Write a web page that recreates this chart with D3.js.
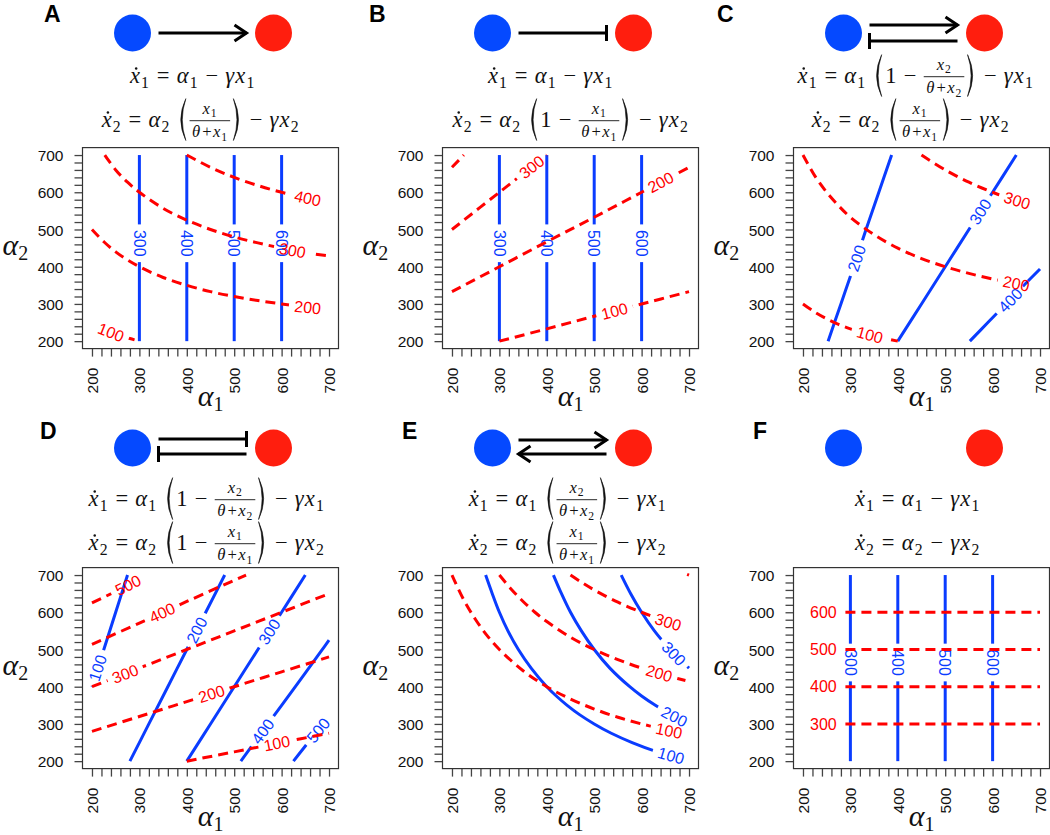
<!DOCTYPE html>
<html>
<head>
<meta charset="utf-8">
<script src="https://cdn.jsdelivr.net/npm/d3@7"></script>
<style>
  body { margin: 0; background: #fff; }
  svg { display: block; }
</style>
</head>
<body>
<div id="chart"></div>
<script>
// contour lines (alpha1, alpha2); blue = x1, red = x2
var A_x1 = [
  {lev: 300, pts: [[300,200],[300,700]], at: [300,463]},
  {lev: 400, pts: [[400,200],[400,700]], at: [400,463]},
  {lev: 500, pts: [[500,200],[500,700]], at: [500,463]},
  {lev: 600, pts: [[600,200],[600,700]], at: [600,463]}
];
var A_x2 = [
  {lev: 100, pts: [[238,226],[260,215],[280,207],[300,200]], at: [240,224]},
  {lev: 200, pts: [[200,500],[225,467],[250,440],[275,418],[300,400],[350,371],[400,350],[450,333],[500,320],[550,309],[600,300],[650,292],[688,287]], at: [655,291]},
  {lev: 300, pts: [[227,700],[250,660],[275,627],[300,600],[350,557],[400,525],[450,500],[500,480],[550,464],[600,450],[650,438],[700,429]], at: [623,444]},
  {lev: 400, pts: [[400,700],[450,667],[500,640],[550,618],[600,600],[650,585],[688,574]], at: [655,584]}
];
var B_x1 = [
  {lev: 300, pts: [[300,200],[300,700]], at: [300,463]},
  {lev: 400, pts: [[400,200],[400,700]], at: [400,463]},
  {lev: 500, pts: [[500,200],[500,700]], at: [500,463]},
  {lev: 600, pts: [[600,200],[600,700]], at: [600,463]}
];
var B_x2 = [
  {lev: 100, pts: [[300,200],[400,233],[500,267],[600,300],[700,333]], at: [543,281]},
  {lev: 200, pts: [[200,333],[300,400],[400,467],[500,533],[600,600],[700,667]], at: [640,627]},
  {lev: 300, pts: [[200,500],[300,600],[400,700]], at: [368,668]},
  {lev: 400, pts: [[200,667],[225,700]]}
];
var C_x1 = [
  {lev: 200, pts: [[253,200],[280,300],[307,400],[333,500],[360,600],[387,700]], at: [313,423]},
  {lev: 300, pts: [[400,200],[450,300],[500,400],[550,500],[600,600],[650,700]], at: [574,548]},
  {lev: 400, pts: [[552,200],[590,250],[628,300],[666,350],[700,394]], at: [637,310]}
];
var C_x2 = [
  {lev: 100, pts: [[200,300],[225,278],[250,260],[275,245],[300,233],[325,223],[350,214],[375,207],[400,200]], at: [341,217]},
  {lev: 200, pts: [[200,700],[225,644],[250,600],[275,564],[300,533],[350,486],[400,450],[450,422],[500,400],[550,382],[600,367],[650,354],[686,346]], at: [650,355]},
  {lev: 300, pts: [[450,700],[500,660],[550,627],[600,600],[650,577],[686,563]], at: [652,578]}
];
var D_x1 = [
  {lev: 100, pts: [[200,400],[225,500],[250,600],[275,700]], at: [212,450]},
  {lev: 200, pts: [[280,200],[320,300],[360,400],[400,500],[440,600],[480,700]], at: [421,552]},
  {lev: 300, pts: [[400,200],[450,300],[500,400],[550,500],[600,600],[650,700]], at: [574,548]},
  {lev: 400, pts: [[514,200],[571,300],[629,400],[686,500],[700,525]], at: [560,280]},
  {lev: 500, pts: [[625,200],[656,250],[688,300],[700,320]], at: [677,283]}
];
var D_x2 = [
  {lev: 100, pts: [[400,200],[500,225],[600,250],[700,275]], at: [590,248]},
  {lev: 200, pts: [[200,280],[300,320],[400,360],[500,400],[600,440],[700,480]], at: [452,381]},
  {lev: 300, pts: [[200,400],[300,450],[400,500],[500,550],[600,600],[700,650]], at: [270,435]},
  {lev: 400, pts: [[200,514],[300,571],[400,629],[500,686],[525,700]], at: [348,599]},
  {lev: 500, pts: [[200,625],[250,656],[300,688],[320,700]], at: [276,673]}
];
var E_x1 = [
  {lev: 100, pts: [[271,700],[285,650],[300,600],[318,550],[340,500],[367,450],[400,400],[420,375],[443,350],[469,325],[500,300],[536,275],[580,250],[633,225],[690,204]], at: [662,215]},
  {lev: 200, pts: [[414,700],[431,650],[450,600],[473,550],[500,500],[533,450],[575,400],[600,375],[629,350],[662,325],[700,300]], at: [669,320]},
  {lev: 300, pts: [[557,700],[577,650],[600,600],[627,550],[660,500],[679,475],[700,450]], at: [668,489]}
];
var E_x2 = [
  {lev: 100, pts: [[200,700],[225,633],[250,580],[275,536],[300,500],[350,443],[400,400],[450,367],[500,340],[550,318],[600,300],[650,285],[688,275]], at: [658,282]},
  {lev: 200, pts: [[300,700],[325,662],[350,629],[375,600],[400,575],[450,533],[500,500],[550,473],[600,450],[650,431],[700,414]], at: [637,436]},
  {lev: 300, pts: [[450,700],[475,679],[500,660],[550,627],[600,600],[650,577],[688,562]], at: [656,574]},
  {lev: 400, pts: [[696,702],[700,700]]}
];
var F_x1 = [
  {lev: 300, pts: [[300,200],[300,700]], at: [300,465]},
  {lev: 400, pts: [[400,200],[400,700]], at: [400,465]},
  {lev: 500, pts: [[500,200],[500,700]], at: [500,465]},
  {lev: 600, pts: [[600,200],[600,700]], at: [600,465]}
];
var F_x2 = [
  {lev: 300, pts: [[222,300],[700,300]], at: [243,300]},
  {lev: 400, pts: [[222,400],[700,400]], at: [243,400]},
  {lev: 500, pts: [[222,500],[700,500]], at: [243,500]},
  {lev: 600, pts: [[222,600],[700,600]], at: [243,600]}
];

// axis ticks and labels
var tickLabels = [200, 300, 400, 500, 600, 700];
var minorTicks = d3.range(200, 701, 20);

// equations: d = dot, a = alpha, g = gamma, t = theta, f:num/den = fraction
var eqA = ['dx1 = a1 - g x1', 'dx2 = a2 ( f:x1/t,+,x1 ) - g x2'];
var eqB = ['dx1 = a1 - g x1', 'dx2 = a2 ( 1 - f:x1/t,+,x1 ) - g x2'];
var eqC = ['dx1 = a1 ( 1 - f:x2/t,+,x2 ) - g x1', 'dx2 = a2 ( f:x1/t,+,x1 ) - g x2'];
var eqD = ['dx1 = a1 ( 1 - f:x2/t,+,x2 ) - g x1', 'dx2 = a2 ( 1 - f:x1/t,+,x1 ) - g x2'];
var eqE = ['dx1 = a1 ( f:x2/t,+,x2 ) - g x1', 'dx2 = a2 ( f:x1/t,+,x1 ) - g x2'];
var eqF = ['dx1 = a1 - g x1', 'dx2 = a2 - g x2'];

// links between nodes: dir br = blue->red, rb = red->blue
var linksA = [{dy: 0, dir: 'br', head: 'arrow'}];
var linksB = [{dy: 0, dir: 'br', head: 'bar'}];
var linksC = [{dy: -8, dir: 'br', head: 'arrow'}, {dy: 8, dir: 'rb', head: 'bar'}];
var linksD = [{dy: -9, dir: 'br', head: 'bar'}, {dy: 6, dir: 'rb', head: 'bar'}];
var linksE = [{dy: -8, dir: 'br', head: 'arrow'}, {dy: 6, dir: 'rb', head: 'arrow'}];
var linksF = [];

var panels = [
  {name: 'A', col: 0, row: 0, x1: A_x1, x2: A_x2, eq: eqA, links: linksA, eqOff: [-18, -10], lx: 44},
  {name: 'B', col: 1, row: 0, x1: B_x1, x2: B_x2, eq: eqB, links: linksB, eqOff: [-20, 0], lx: 369},
  {name: 'C', col: 2, row: 0, x1: C_x1, x2: C_x2, eq: eqC, links: linksC, eqOff: [-6, -11], lx: 717},
  {name: 'D', col: 0, row: 1, x1: D_x1, x2: D_x2, eq: eqD, links: linksD, eqOff: [-4, -4], lx: 40},
  {name: 'E', col: 1, row: 1, x1: E_x1, x2: E_x2, eq: eqE, links: linksE, eqOff: [-3, -3], lx: 402},
  {name: 'F', col: 2, row: 1, x1: F_x1, x2: F_x2, eq: eqF, links: linksF, eqOff: [-4, -4], lx: 753}
];

var W = 1050, H = 835;
var colLeft = [82.5, 442.5, 793.5];
var rowTop = [147.6, 567.6];
var boxW = 256, boxH = 201;
var nodeY = [33, 448];
var eqY = [[83, 127], [506, 550]];
var letterY = [22, 439];
var EQ_SIZE = 22.5;

var BLUE = '#0a3cff', RED = '#ff0000';
var SANS = '"Liberation Sans", Arial, Helvetica, sans-serif';
var SERIF = '"Liberation Serif", "DejaVu Serif", serif';

var svg = d3.select('#chart').append('svg')
  .attr('width', W).attr('height', H)
  .attr('font-family', SANS);
var defs = svg.append('defs');
var maskId = 0;

var line = d3.line().curve(d3.curveCatmullRom.alpha(0.5));

function tok(s) {
  if (s === '=' || s === '-' || s === '+') return {k: 'o', c: s === '-' ? '\u2212' : s};
  if (s === '(' || s === ')') return {k: 'p', c: s};
  if (s.indexOf('f:') === 0) {
    var parts = s.slice(2).split('/');
    return {k: 'f', num: parts[0].split(',').map(tok), den: parts[1].split(',').map(tok)};
  }
  if (/^\d$/.test(s)) return {k: 'n', c: s};
  var dot = false;
  if (s[0] === 'd') { dot = true; s = s.slice(1); }
  var map = {x: 'x', a: '\u03b1', g: '\u03b3', t: '\u03b8'};
  return {k: 'v', c: map[s[0]], sub: s.slice(1) || null, dot: dot};
}

function layout(g, toks, S, tight) {
  var x = 0;
  toks.forEach(function(t) {
    if (t.k === 'v') {
      var tx = g.append('text').attr('x', x).attr('font-size', S)
        .attr('font-style', 'italic').text(t.c);
      var w = tx.node().getComputedTextLength();
      if (t.dot) g.append('circle').attr('cx', x + w * 0.62).attr('cy', -S * 0.64).attr('r', S * 0.055);
      x += w + S * 0.05;
      if (t.sub) {
        var s = g.append('text').attr('x', x).attr('y', S * 0.2)
          .attr('font-size', S * 0.7).text(t.sub);
        x += s.node().getComputedTextLength() + S * 0.03;
      }
    } else if (t.k === 'o') {
      var sp = tight ? S * 0.08 : S * 0.32;
      x += sp;
      var o = g.append('text').attr('x', x).attr('font-size', S).text(t.c);
      x += o.node().getComputedTextLength() + sp;
    } else if (t.k === 'n') {
      var n = g.append('text').attr('x', x).attr('font-size', S).text(t.c);
      x += n.node().getComputedTextLength();
    } else if (t.k === 'p') {
      var pw = S * 0.45;
      if (t.c === '(') x += S * 0.3;
      else x += S * 0.1;
      var top = -S * 1.26, bot = S * 0.6, mid = (top + bot) / 2;
      var p;
      if (t.c === '(') {
        var xe = x + pw * 0.9;
        p = 'M' + xe + ',' + top + 'Q' + (x - pw * 0.1) + ',' + mid + ' ' + xe + ',' + bot +
            'Q' + (x + pw * 0.2) + ',' + mid + ' ' + xe + ',' + top + 'Z';
      } else {
        var xs = x + pw * 0.1;
        p = 'M' + xs + ',' + top + 'Q' + (x + pw * 1.1) + ',' + mid + ' ' + xs + ',' + bot +
            'Q' + (x + pw * 0.8) + ',' + mid + ' ' + xs + ',' + top + 'Z';
      }
      g.append('path').attr('d', p).attr('fill', '#111').attr('stroke', '#111').attr('stroke-width', 0.6);
      x += pw;
      if (t.c === '(') x += S * 0.12;
    } else if (t.k === 'f') {
      var fs = S * 0.74;
      var ng = g.append('g'), dg = g.append('g');
      var wn = layout(ng, t.num, fs, true), wd = layout(dg, t.den, fs, true);
      var bw = Math.max(wn, wd) + S * 0.22;
      ng.attr('transform', 'translate(' + (x + (bw - wn) / 2) + ',' + (-S * 0.58) + ')');
      dg.attr('transform', 'translate(' + (x + (bw - wd) / 2) + ',' + (S * 0.46) + ')');
      g.append('line').attr('x1', x).attr('x2', x + bw)
        .attr('y1', -S * 0.28).attr('y2', -S * 0.28)
        .attr('stroke', '#111').attr('stroke-width', 0.9);
      x += bw;
    }
  });
  return x;
}

function drawEq(cx, by, spec, S) {
  var g = svg.append('g').attr('font-family', SERIF).attr('fill', '#111');
  var w = layout(g, spec.split(' ').map(tok), S, false);
  g.attr('transform', 'translate(' + (cx - w / 2) + ',' + by + ')');
}

function drawContour(g, c, color, dashed, sx, sy) {
  var pxPts = c.pts.map(function(d) { return [sx(d[0]), sy(d[1])]; });
  var path = g.append('path')
    .attr('d', line(pxPts))
    .attr('fill', 'none')
    .attr('stroke', color)
    .attr('stroke-width', 3)
    .attr('stroke-linejoin', 'round');
  if (dashed) path.attr('stroke-dasharray', '10,6');
  if (!c.at) return;

  var px = sx(c.at[0]), py = sy(c.at[1]);
  var best = Infinity, ang = 0;
  for (var i = 0; i < pxPts.length - 1; i++) {
    var a = pxPts[i], b = pxPts[i + 1];
    var vx = b[0] - a[0], vy = b[1] - a[1];
    var L2 = vx * vx + vy * vy;
    var tt = L2 ? Math.max(0, Math.min(1, ((px - a[0]) * vx + (py - a[1]) * vy) / L2)) : 0;
    var qx = a[0] + tt * vx - px, qy = a[1] + tt * vy - py;
    var dd = qx * qx + qy * qy;
    if (dd < best) { best = dd; ang = Math.atan2(vy, vx) * 180 / Math.PI; }
  }
  if (ang > 90) ang -= 180;
  if (ang <= -90) ang += 180;
  var tr = 'translate(' + px + ',' + py + ') rotate(' + ang + ')';
  var lab = g.append('text')
    .attr('transform', tr)
    .attr('text-anchor', 'middle')
    .attr('dy', '0.36em')
    .attr('fill', color)
    .attr('font-size', 16)
    .text(c.lev);
  var len = lab.node().getComputedTextLength();
  var id = 'gap' + (maskId++);
  var m = defs.append('mask').attr('id', id)
    .attr('maskUnits', 'userSpaceOnUse')
    .attr('x', 0).attr('y', 0).attr('width', W).attr('height', H);
  m.append('rect').attr('width', W).attr('height', H).attr('fill', 'white');
  m.append('rect')
    .attr('x', -len / 2 - 5.5).attr('y', -8)
    .attr('width', len + 11).attr('height', 16)
    .attr('transform', tr)
    .attr('fill', 'black');
  path.attr('mask', 'url(#' + id + ')');
}

function drawLink(cxB, cxR, cy, lk) {
  var xa = cxB + 26, xb = cxR - 27;
  var y = cy + lk.dy;
  var from = lk.dir === 'br' ? xa : xb, to = lk.dir === 'br' ? xb : xa;
  var s = to > from ? 1 : -1;
  svg.append('line').attr('x1', from).attr('x2', to).attr('y1', y).attr('y2', y)
    .attr('stroke', '#000').attr('stroke-width', 3);
  if (lk.head === 'arrow') {
    svg.append('path')
      .attr('d', 'M' + (to - s * 12) + ',' + (y - 8) + 'L' + to + ',' + y + 'L' + (to - s * 12) + ',' + (y + 8))
      .attr('fill', 'none').attr('stroke', '#000').attr('stroke-width', 3)
      .attr('stroke-linejoin', 'miter');
  } else {
    svg.append('line').attr('x1', to).attr('x2', to).attr('y1', y - 8).attr('y2', y + 8)
      .attr('stroke', '#000').attr('stroke-width', 3);
  }
}

panels.forEach(function(p) {
  var left = colLeft[p.col], top = rowTop[p.row];
  var cx = left + boxW / 2;
  var x = d3.scaleLinear().domain([180, 720]).range([left, left + boxW]);
  var y = d3.scaleLinear().domain([180, 720]).range([top + boxH, top]);

  // panel letter
  svg.append('text').attr('x', p.lx).attr('y', letterY[p.row])
    .attr('font-size', 23).attr('font-weight', 'bold').text(p.name);

  // network sketch
  var cxB = cx - 78, cxR = cx + 63, cy = nodeY[p.row];
  p.links.forEach(function(lk) { drawLink(cxB, cxR, cy, lk); });
  svg.append('circle').attr('cx', cxB).attr('cy', cy).attr('r', 18.5).attr('fill', '#0549ff');
  svg.append('circle').attr('cx', cxR).attr('cy', cy).attr('r', 18.5).attr('fill', '#ff1e0e');

  // equations
  p.eq.forEach(function(e, i) { drawEq(cx + p.eqOff[i], eqY[p.row][i], e, EQ_SIZE); });

  // axes
  var fmt = function(d) { return tickLabels.indexOf(d) >= 0 ? d : ''; };
  var gx = svg.append('g').attr('transform', 'translate(0,' + (top + boxH) + ')')
    .call(d3.axisBottom(x).tickValues(minorTicks).tickSize(8).tickSizeOuter(0).tickFormat(fmt));
  var gy = svg.append('g').attr('transform', 'translate(' + left + ',0)')
    .call(d3.axisLeft(y).tickValues(minorTicks).tickSize(8).tickSizeOuter(0).tickFormat(fmt));
  [gx, gy].forEach(function(g) {
    g.select('.domain').remove();
    g.selectAll('.tick line').attr('stroke', '#444').attr('stroke-width', 1.3);
    g.selectAll('text').attr('font-size', 15.5).attr('font-family', SANS).attr('fill', '#111');
  });
  gx.selectAll('text')
    .attr('transform', 'rotate(-90)')
    .attr('x', -19).attr('y', 0).attr('dy', '0.36em')
    .attr('text-anchor', 'end');
  gy.selectAll('text').attr('x', -19).attr('dy', '0.36em');

  // axis titles
  var xt = svg.append('text').attr('x', cx).attr('y', top + boxH + 57)
    .attr('text-anchor', 'middle').attr('font-family', SERIF).attr('fill', '#111');
  xt.append('tspan').attr('font-size', 30).attr('font-style', 'italic').text('\u03b1');
  xt.append('tspan').attr('font-size', 20).attr('dy', 5).text('1');
  var yt = svg.append('text').attr('x', left - 80).attr('y', top + boxH / 2 + 7)
    .attr('font-family', SERIF).attr('fill', '#111');
  yt.append('tspan').attr('font-size', 30).attr('font-style', 'italic').text('\u03b1');
  yt.append('tspan').attr('font-size', 20).attr('dy', 5).text('2');

  // contours
  var cid = 'clip' + p.name;
  defs.append('clipPath').attr('id', cid).append('rect')
    .attr('x', left).attr('y', top).attr('width', boxW).attr('height', boxH);
  var g = svg.append('g').attr('clip-path', 'url(#' + cid + ')');
  p.x1.forEach(function(c) { drawContour(g, c, BLUE, false, x, y); });
  p.x2.forEach(function(c) { drawContour(g, c, RED, true, x, y); });

  // box
  svg.append('rect').attr('x', left).attr('y', top).attr('width', boxW).attr('height', boxH)
    .attr('fill', 'none').attr('stroke', '#333').attr('stroke-width', 1.2);
});
</script>
</body>
</html>
